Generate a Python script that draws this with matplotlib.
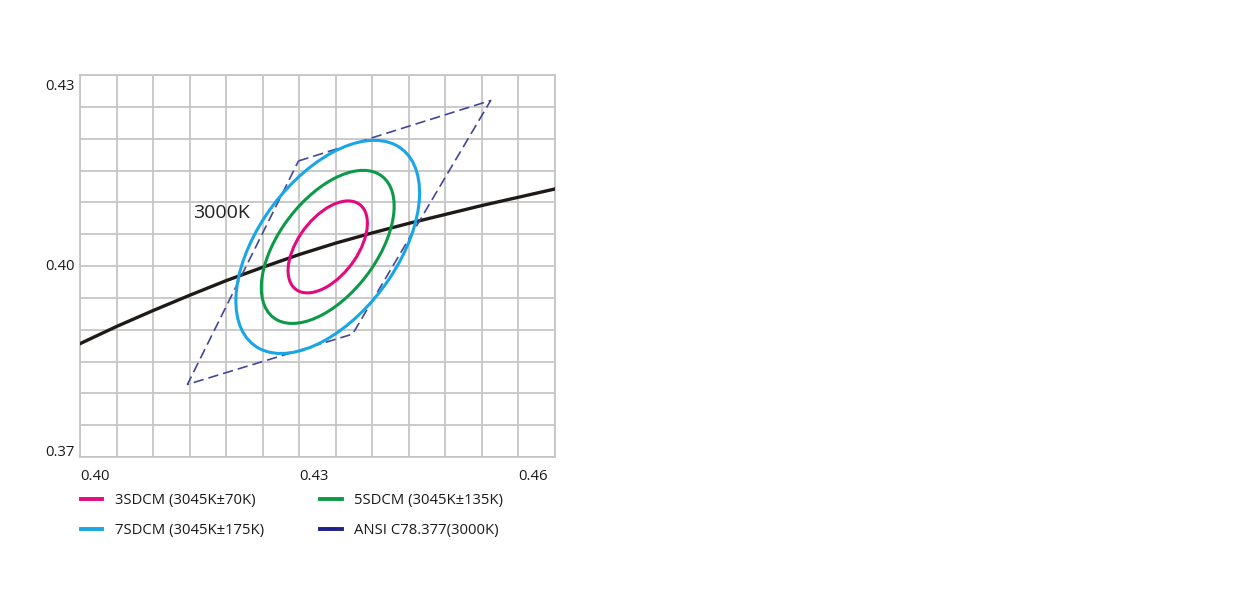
import numpy as np
import matplotlib
matplotlib.use('Agg')
import matplotlib.pyplot as plt
from matplotlib.patches import Ellipse
from matplotlib.lines import Line2D
from matplotlib.transforms import offset_copy

plt.rcParams['font.family'] = ['Open Sans', 'DejaVu Sans']

# Planckian locus (CIE 1931 x, y)
locus_x = [0.400, 0.405, 0.410, 0.415, 0.420, 0.425, 0.430,
           0.435, 0.440, 0.445, 0.450, 0.455, 0.460, 0.465]
locus_y = [0.3878, 0.3905, 0.3930, 0.3954, 0.3977, 0.3998, 0.4018,
           0.4036, 0.4052, 0.4067, 0.4081, 0.4095, 0.4108, 0.4121]

# ANSI C78.377 3000K quadrangle corners
ansi_x = [0.4299, 0.4562, 0.4373, 0.4147]
ansi_y = [0.4165, 0.4260, 0.3893, 0.3814]

# MacAdam ellipses (3, 7, 5 step) around the 3045K centre
ell_center = (0.4339, 0.4030)
ell_names = ['3SDCM (3045K±70K)', '7SDCM (3045K±175K)', '5SDCM (3045K±135K)']
ell_a = [0.0080, 0.0185, 0.0134]
ell_b = [0.0042, 0.0098, 0.0069]
ell_angle = [59.7, 59.9, 59.0]
ell_colors = ['#e5097f', '#19a6e6', '#0d9a48']

ansi_name = 'ANSI C78.377(3000K)'

x_labels = [0.40, 0.43, 0.46]
y_labels = [0.43, 0.40, 0.37]

fig = plt.figure(figsize=(12.41, 6.01), dpi=100)
ax = fig.add_axes([80/1241, 144/601, 475/1241, 382/601])

ax.set_xlim(0.400, 0.465)
ax.set_ylim(0.370, 0.430)

# grid every 0.005
xt = np.round(np.arange(0.400, 0.4651, 0.005), 3)
yt = np.round(np.arange(0.370, 0.4301, 0.005), 3)
ax.set_xticks(xt)
ax.set_yticks(yt)
ax.set_xticklabels(['%.2f' % v if any(abs(v - l) < 1e-6 for l in x_labels) else '' for v in xt])
ax.set_yticklabels([''] * len(yt))
ax.tick_params(length=0, labelsize=10.7, labelcolor='#1a1a1a')
ax.tick_params(axis='x', pad=8.5)
for lab in ax.get_xticklabels():
    lab.set_ha('left')

# y labels are nudged to stay inside the plot height
ytrans = ax.get_yaxis_transform()
y_shift = [-11, -1, 5]
for v, dy in zip(y_labels, y_shift):
    ax.text(0, v, '%.2f' % v, fontsize=10.7, color='#1a1a1a', ha='right', va='center',
            transform=offset_copy(ytrans, fig=fig, x=-5, y=dy, units='dots'))

ax.grid(True, color='#c6c6c6', linewidth=1.3)
ax.set_axisbelow(True)
for s in ax.spines.values():
    s.set_color('#c6c6c6')
    s.set_linewidth(1.3)

# locus
ax.plot(locus_x, locus_y, color='#1e1a18', linewidth=2.4, zorder=3)
ax.text(0.4194, 0.4083, '3000K', fontsize=14, color='#222222',
        ha='center', va='center')

# ANSI quadrangle
ax.plot(ansi_x + ansi_x[:1], ansi_y + ansi_y[:1], color='#43469a',
        linewidth=1.2, dashes=(6.2, 3), zorder=4)

# ellipses
for a, b, ang, c in zip(ell_a, ell_b, ell_angle, ell_colors):
    ax.add_patch(Ellipse(ell_center, 2 * a, 2 * b, angle=ang, fill=False,
                         edgecolor=c, linewidth=2.2, zorder=5))

handles = [Line2D([], [], color=c, linewidth=2.8) for c in ell_colors]
handles.append(Line2D([], [], color='#1d2087', linewidth=2.8))
labels = ell_names + [ansi_name]
ax.legend(handles, labels, ncol=2, frameon=False, fontsize=10.7,
          loc='upper left', bbox_to_anchor=(75/1241, 1 - 487/601),
          bbox_transform=fig.transFigure, handlelength=1.45,
          handletextpad=0.85, columnspacing=3.75, labelspacing=1.03,
          labelcolor='#1a1a1a', borderaxespad=0)

fig.savefig('out.png', dpi=100)
